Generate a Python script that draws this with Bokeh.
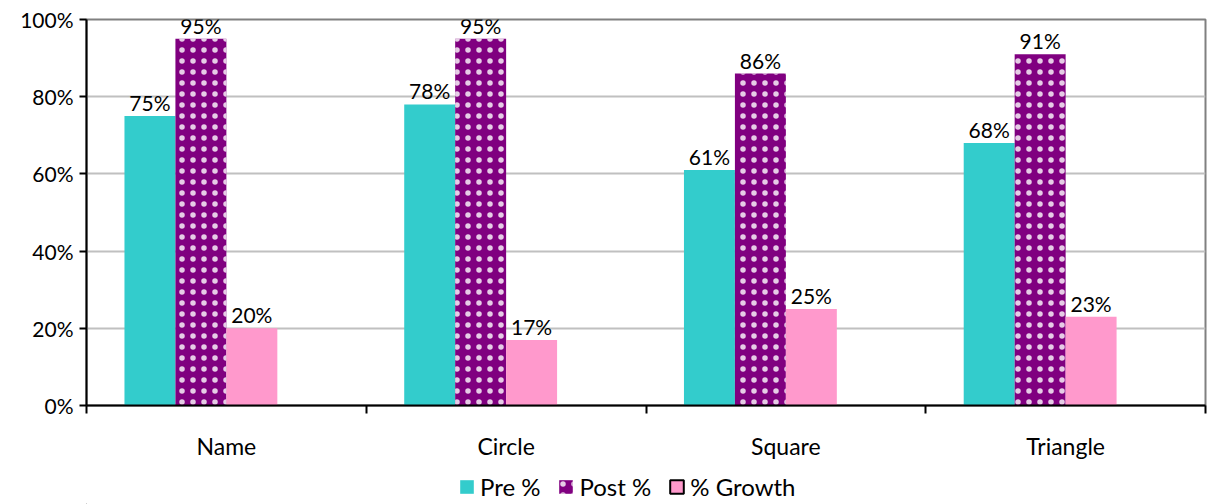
from bokeh.plotting import figure
from bokeh.models import (ColumnDataSource, Range1d, FixedTicker, Legend, LegendItem,
                          LabelSet)
from bokeh.layouts import column
from bokeh.core.properties import value
from bokeh.embed import file_html
from bokeh.resources import INLINE

categories = ["Name", "Circle", "Square", "Triangle"]
pre = [75, 78, 61, 68]
post = [95, 95, 86, 91]
growth = [20, 17, 25, 23]
series_names = ["Pre %", "Post %", "% Growth"]
y_ticks = [0, 20, 40, 60, 80, 100]

FONT = "Lato"
n_slots = 4          # Excel chart reserves a 4th (empty) series slot
bar_w = 51 / 280

p = figure(frame_width=1119, frame_height=386, output_backend="svg", toolbar_location=None,
           x_range=Range1d(0, len(categories)), y_range=Range1d(0, 100),
           min_border_left=86, min_border_top=19, min_border_right=2, min_border_bottom=0)

p.background_fill_color = "white"
p.outline_line_color = "#808080"
p.outline_line_width = 2

colors = ["#33CCCC", "#800080", "#FF99CC"]
hatch = dict(hatch_pattern="dot", hatch_color="white", hatch_alpha=0.8,
             hatch_scale=11, hatch_weight=1.0)
data = [pre, post, growth]
for i, (vals, col) in enumerate(zip(data, colors)):
    xs = [k + 0.5 + (i - (n_slots - 1) / 2) * bar_w for k in range(len(categories))]
    src = ColumnDataSource(dict(x=xs, top=vals, lab=[f"{v}%" for v in vals]))
    kw = hatch if i == 1 else {}
    p.vbar(x="x", top="top", width=bar_w, source=src, fill_color=col,
           line_color=None, **kw)
    labels = LabelSet(x="x", y="top", text="lab", source=src, text_align="center",
                      text_baseline="bottom", y_offset=1, text_font=value(FONT),
                      text_font_size="21px", text_color="black")
    p.add_layout(labels)

# y axis
p.yaxis.ticker = FixedTicker(ticks=y_ticks)
p.yaxis.major_label_overrides = {t: f"{t}%" for t in y_ticks}
p.yaxis.major_label_text_font = FONT
p.yaxis.major_label_text_font_size = "21px"
p.yaxis.major_label_text_color = "black"
p.yaxis.axis_line_color = "black"
p.yaxis.axis_line_width = 2
p.yaxis.major_tick_line_width = 2
p.yaxis.major_tick_out = 7
p.yaxis.major_tick_in = 0
p.yaxis.minor_tick_line_color = None
p.yaxis.major_label_standoff = 6

# x axis
centers = [k + 0.5 for k in range(len(categories))]
p.xaxis.ticker = FixedTicker(ticks=centers, minor_ticks=list(range(len(categories) + 1)))
p.xaxis.major_label_overrides = {c: name for c, name in zip(centers, categories)}
p.xaxis.major_label_text_font = FONT
p.xaxis.major_label_text_font_size = "23px"
p.xaxis.major_label_text_color = "black"
p.xaxis.axis_line_color = "black"
p.xaxis.axis_line_width = 2
p.xaxis.major_tick_line_color = None
p.xaxis.minor_tick_line_color = "black"
p.xaxis.minor_tick_line_width = 2
p.xaxis.minor_tick_out = 8
p.xaxis.minor_tick_in = 0
p.xaxis.major_label_standoff = 18

p.xgrid.visible = False
p.ygrid.ticker = FixedTicker(ticks=y_ticks[1:-1])
p.ygrid.grid_line_color = "#C0C0C0"
p.ygrid.grid_line_width = 2

# legend strip below the chart
lg = figure(width=1207, height=42, output_backend="svg", toolbar_location=None,
            x_range=Range1d(0, 1), y_range=Range1d(0, 1),
            min_border=0, outline_line_color=None)
lg.axis.visible = False
lg.grid.visible = False
def dummy():
    return ColumnDataSource(dict(x=[-10], top=[-10], bottom=[-11]))
r0 = lg.vbar(x="x", top="top", bottom="bottom", width=0.1, source=dummy(),
             fill_color=colors[0], line_color=None)
r1 = lg.vbar(x="x", top="top", bottom="bottom", width=0.1, source=dummy(),
             fill_color=colors[1], line_color=None, **hatch)
r2 = lg.vbar(x="x", top="top", bottom="bottom", width=0.1, source=dummy(),
             fill_color=colors[2], line_color="black", line_width=2)
items = [LegendItem(label=name, renderers=[r]) for name, r in zip(series_names, [r0, r1, r2])]
legend = Legend(items=items, orientation="horizontal", location=(372, 3),
                label_text_font=FONT, label_text_font_size="24px", label_text_color="black",
                glyph_width=17, glyph_height=17, spacing=17, label_standoff=5,
                border_line_color=None, padding=0, margin=0, background_fill_alpha=0)
lg.add_layout(legend, "center")

layout = column(p, lg, spacing=0)
open("out.html", "w").write(file_html(layout, INLINE))
